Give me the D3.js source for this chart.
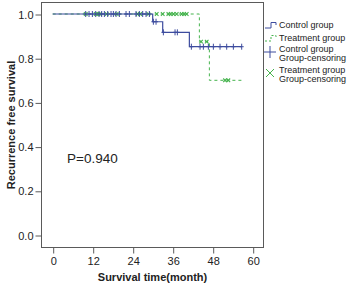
<!DOCTYPE html>
<html>
<head>
<meta charset="utf-8">
<script src="https://cdn.jsdelivr.net/npm/d3@7"></script>
<style>
  body { margin: 0; background: #fff; }
  text { font-family: "Liberation Sans", Arial, sans-serif; }
</style>
</head>
<body>
<svg id="chart" width="350" height="288"></svg>
<script>
// step curves: time of each drop and survival after it
const controlTimes = [0, 30, 33, 41];
const controlSurv = [1.0, 0.965, 0.917, 0.852];
const controlEnd = 56.7;
const treatTimes = [0, 44, 47];
const treatSurv = [1.0, 0.875, 0.70];
const treatEnd = 57.2;

// censored observations (months)
const controlCensor = [9.9, 10.9, 11.9, 12.9, 13.9, 14.7, 15.5, 16.5, 17.5, 18.2, 19.0, 20.0,
  22.0, 23.0, 25.0, 26.0, 27.0, 28.0, 29.0, 30.2, 31.0, 33.2, 36.7, 37.4,
  41.6, 44.2, 45.2, 46.7, 48.2, 50.2, 52.2, 54.2, 56.7];
const treatCensor = [9.9, 12.9, 13.7, 14.2, 16.2, 19.2, 25.5, 26.2, 28.7, 31.2, 33.0,
  34.7, 35.4, 36.2, 37.2, 38.7, 39.4, 40.2, 44.5, 46.2, 51.7, 52.7];

const xTicks = [0, 12, 24, 36, 48, 60];
const yTicks = [0.0, 0.2, 0.4, 0.6, 0.8, 1.0];
const legendLabels = [['Control group'], ['Treatment group'],
  ['Control group', 'Group-censoring'], ['Treatment group', 'Group-censoring']];

const blue = '#3d4c9e';
const green = '#45b34d';
const frameCol = '#5a5a5a';

const svg = d3.select('#chart');
const box = {left: 41, top: 2, right: 263, bottom: 247};

const x = d3.scaleLinear().domain([0, 60]).range([52.7, 252.7]);
const y = d3.scaleLinear().domain([0, 1]).range([235, 14]);

// frame
svg.append('rect')
  .attr('x', box.left + 0.5)
  .attr('y', box.top + 0.5)
  .attr('width', box.right - box.left)
  .attr('height', box.bottom - box.top)
  .attr('fill', 'none')
  .attr('stroke', frameCol)
  .attr('stroke-width', 1);

const xAxis = svg.append('g')
  .attr('transform', `translate(0.5,${box.bottom + 0.5})`)
  .call(d3.axisBottom(x).tickValues(xTicks).tickSize(6).tickSizeOuter(0).tickPadding(4)
    .tickFormat(d3.format('d')));
const yAxis = svg.append('g')
  .attr('transform', `translate(${box.left + 0.5},0.5)`)
  .call(d3.axisLeft(y).tickValues(yTicks).tickSize(6).tickSizeOuter(0).tickPadding(2)
    .tickFormat(d3.format('.1f')));
[xAxis, yAxis].forEach(g => {
  g.select('.domain').remove();
  g.selectAll('line').attr('stroke', frameCol);
  g.selectAll('text').attr('fill', '#222').style('font-size', '11px')
    .style('font-family', '"Liberation Sans", Arial, sans-serif');
});

svg.append('text')
  .attr('x', 152.5).attr('y', 281)
  .attr('text-anchor', 'middle')
  .style('font-size', '11px').style('font-weight', 'bold').attr('fill', '#222')
  .text('Survival time(month)');
svg.append('text')
  .attr('transform', 'rotate(-90)')
  .attr('x', -125).attr('y', 15)
  .attr('text-anchor', 'middle')
  .style('font-size', '11px').style('font-weight', 'bold').attr('fill', '#222')
  .text('Recurrence free survival');

svg.append('text')
  .attr('x', 67).attr('y', 163)
  .style('font-size', '13.5px').attr('fill', '#222')
  .text('P=0.940');

const stepPts = (times, surv, end) =>
  times.map((t, i) => [t, surv[i]]).concat([[end, surv[surv.length - 1]]]);
const survAt = (times, surv, t) => {
  let s = surv[0];
  times.forEach((tt, i) => { if (t >= tt) s = surv[i]; });
  return s;
};
const line = d3.line().x(d => x(d[0])).y(d => y(d[1])).curve(d3.curveStepAfter);

svg.append('path')
  .datum(stepPts(treatTimes, treatSurv, treatEnd))
  .attr('fill', 'none').attr('stroke', green).attr('stroke-width', 1)
  .attr('stroke-dasharray', '3,3')
  .attr('d', line);
svg.append('path')
  .datum(stepPts(controlTimes, controlSurv, controlEnd))
  .attr('fill', 'none').attr('stroke', blue).attr('stroke-width', 1.2)
  .attr('d', line);

// censor marks
svg.append('g').selectAll('path')
  .data(treatCensor)
  .join('path')
  .attr('transform', d => `translate(${x(d)},${y(survAt(treatTimes, treatSurv, d))})`)
  .attr('d', 'M-1.8,-1.8L1.8,1.8M-1.8,1.8L1.8,-1.8')
  .attr('stroke', green).attr('stroke-width', 1.1).attr('fill', 'none');
svg.append('g').selectAll('path')
  .data(controlCensor)
  .join('path')
  .attr('transform', d => `translate(${x(d)},${y(survAt(controlTimes, controlSurv, d))})`)
  .attr('d', 'M0,-3L0,3M-2,0L2,0')
  .attr('stroke', blue).attr('stroke-width', 1).attr('fill', 'none');

// legend
const leg = svg.append('g').attr('transform', 'translate(265,0)');
leg.append('path')
  .attr('d', 'M0,28H6V22.5H11V25')
  .attr('fill', 'none').attr('stroke', blue).attr('stroke-width', 1);
leg.append('path')
  .attr('d', 'M0,41H6V35.5H11V38')
  .attr('fill', 'none').attr('stroke', green).attr('stroke-width', 1)
  .attr('stroke-dasharray', '2,2');
leg.append('path')
  .attr('d', 'M5,46V58M-1,52H11')
  .attr('stroke', blue).attr('stroke-width', 1);
leg.append('path')
  .attr('d', 'M1,69L9,77M1,77L9,69')
  .attr('stroke', green).attr('stroke-width', 1);

const legY = [[25], [38], [49, 58], [70, 79]];
legendLabels.forEach((lines, i) => {
  lines.forEach((s, j) => {
    leg.append('text')
      .attr('x', 14).attr('y', legY[i][j] + 3)
      .style('font-size', '9px').attr('fill', '#222')
      .text(s);
  });
});
</script>
</body>
</html>
